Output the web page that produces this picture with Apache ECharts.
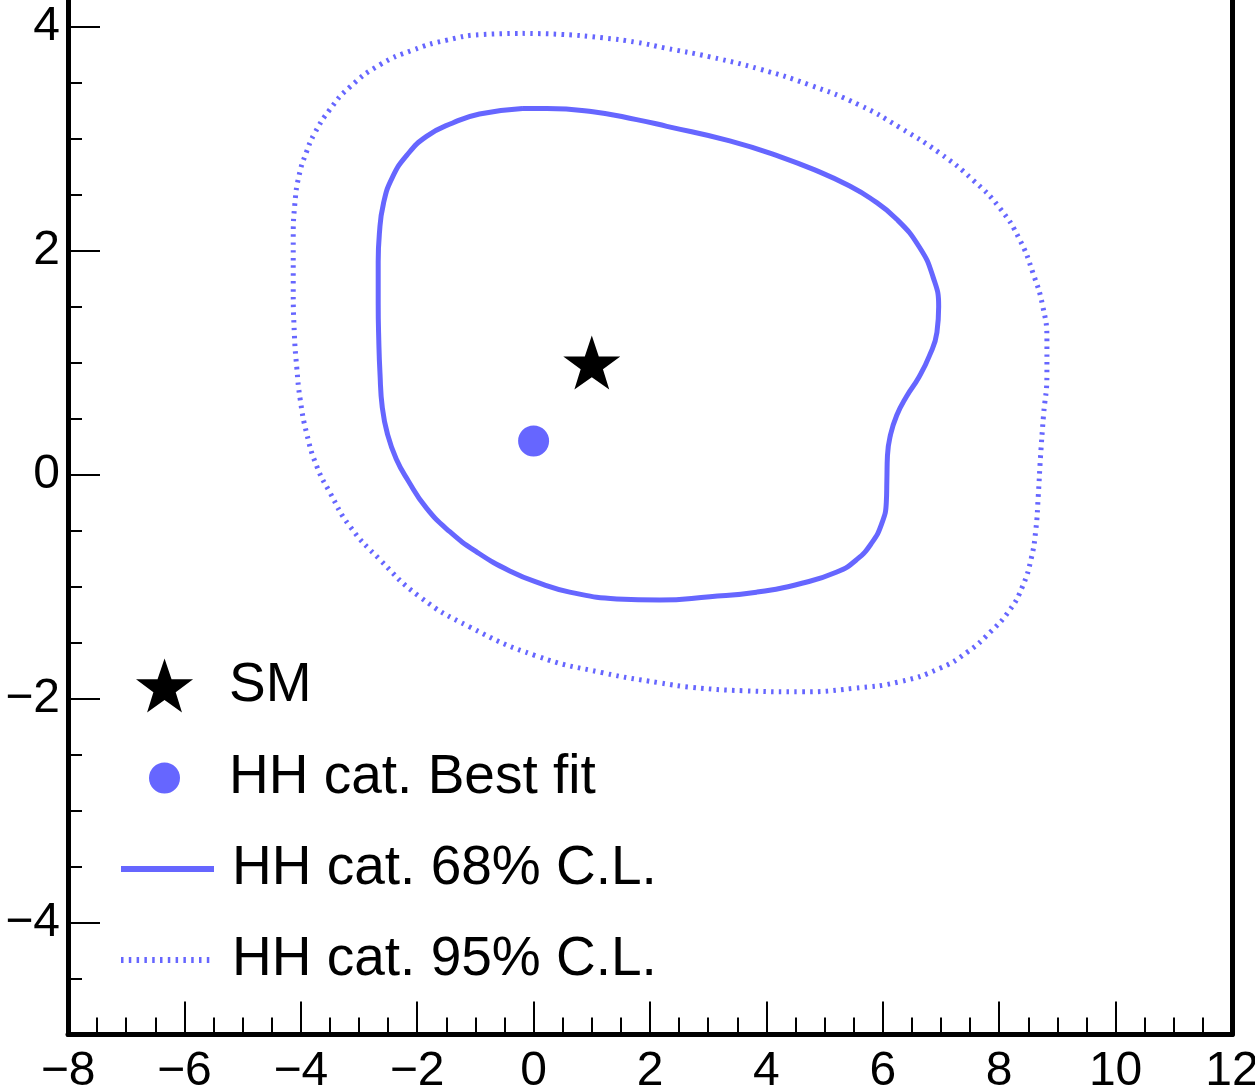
<!DOCTYPE html>
<html>
<head>
<meta charset="utf-8">
<script src="https://cdn.jsdelivr.net/npm/echarts@6/dist/echarts.min.js"></script>
<style>
html,body{margin:0;padding:0;background:#fff;}
#chart{width:1255px;height:1086px;}
</style>
</head>
<body>
<div id="chart"></div>
<script>
// ---------- data ----------
const xTickLabels = [-8, -6, -4, -2, 0, 2, 4, 6, 8, 10, 12];
const yTickLabels = [-4, -2, 0, 2, 4];
const yMinorTicks = [-4.5, -3.5, -3, -2.5, -1.5, -1, -0.5, 0.5, 1, 1.5, 2.5, 3, 3.5];

const smPoint = [[1, 1]];
const bestFit = [[0, 0.3]];

const cl68 = [
  [-0.19, 3.27], [0.23, 3.27], [1.02, 3.24], [1.77, 3.17], [2.29, 3.11], [3.37, 2.98],
  [4.23, 2.84], [4.97, 2.69], [5.38, 2.59], [5.78, 2.47], [6.24, 2.28], [6.63, 2.03],
  [6.86, 1.77], [6.96, 1.50], [6.93, 1.27], [6.80, 1.06], [6.62, 0.87], [6.41, 0.70],
  [6.24, 0.53], [6.13, 0.35], [6.08, 0.17], [6.07, -0.05], [6.06, -0.25], [5.98, -0.44],
  [5.81, -0.61], [5.55, -0.76], [5.21, -0.87], [4.61, -0.97], [3.83, -1.05], [3.03, -1.09],
  [2.17, -1.12], [1.43, -1.11], [0.62, -1.05], [0.16, -0.98], [-0.41, -0.86], [-0.98, -0.69],
  [-1.44, -0.51], [-1.84, -0.30], [-2.16, -0.05], [-2.36, 0.14], [-2.51, 0.36], [-2.60, 0.60],
  [-2.64, 0.91], [-2.66, 1.20], [-2.67, 1.53], [-2.67, 1.90], [-2.65, 2.15], [-2.58, 2.42],
  [-2.43, 2.65], [-2.18, 2.85], [-1.84, 3.02], [-1.39, 3.14], [-0.93, 3.22], [-0.19, 3.27]
];

const cl95 = [
  [-0.19, 3.94], [0.50, 3.93], [1.19, 3.90], [1.77, 3.86], [2.25, 3.81], [3.03, 3.73],
  [3.89, 3.62], [4.74, 3.48], [5.60, 3.30], [6.29, 3.10], [6.98, 2.87], [7.55, 2.63],
  [8.01, 2.38], [8.35, 2.10], [8.58, 1.80], [8.75, 1.50], [8.82, 1.20], [8.82, 0.90],
  [8.76, 0.52], [8.71, 0.16], [8.67, -0.20], [8.63, -0.49], [8.55, -0.75], [8.40, -1.00],
  [8.18, -1.21], [7.84, -1.41], [7.44, -1.59], [6.98, -1.73], [6.29, -1.85], [5.48, -1.91],
  [4.62, -1.94], [3.59, -1.93], [2.73, -1.90], [2.17, -1.86], [1.19, -1.77], [0.05, -1.62],
  [-1.10, -1.36], [-1.96, -1.09], [-2.64, -0.76], [-3.16, -0.46], [-3.50, -0.16], [-3.73, 0.08],
  [-3.90, 0.37], [-4.01, 0.67], [-4.07, 0.96], [-4.11, 1.25], [-4.13, 1.68], [-4.13, 2.10],
  [-4.10, 2.43], [-4.03, 2.67], [-3.91, 2.87], [-3.76, 3.05], [-3.50, 3.26], [-3.16, 3.46],
  [-2.64, 3.66], [-2.08, 3.79], [-1.49, 3.88], [-0.88, 3.93], [-0.19, 3.94]
];

const seriesNames = ['SM', 'HH cat. Best fit', 'HH cat. 68% C.L.', 'HH cat. 95% C.L.'];

// ---------- style ----------
const BLUE = '#6666ff';
const FONT = "'Liberation Sans', Arial, Helvetica, sans-serif";
const STAR = 'path://M50,0 L61.8,35.1 L98.1,35.1 L68.8,56.7 L79.4,91 L50,70 L20.6,91 L31.2,56.7 L1.9,35.1 L38.2,35.1 Z';
const DOT_DASH = [2.5, 5.3];
const YMIN = -5, YMAX = 4.238;

function fmt(v) {
  return v < 0 ? '\u2212' + Math.abs(v) : String(v);
}

function legendText(padTop) {
  return { fontSize: 55, color: '#000', fontFamily: FONT, lineHeight: 60, padding: [padTop, 0, 0, 13] };
}

const legendBase = {
  orient: 'horizontal',
  padding: 0,
  itemWidth: 93,
  selectedMode: false
};

const option = {
  animation: false,
  backgroundColor: '#fff',
  grid: { left: 68, right: 23, top: 0, bottom: 51.5, containLabel: false, outerBoundsMode: 'none' },
  legend: [
    Object.assign({}, legendBase, { left: 136, top: 652, itemHeight: 54, textStyle: legendText(7),
      data: [{ name: seriesNames[0], icon: STAR }] }),
    Object.assign({}, legendBase, { left: 149, top: 748, itemHeight: 31, textStyle: legendText(0),
      data: [{ name: seriesNames[1], icon: 'circle' }] }),
    Object.assign({}, legendBase, { left: 118, top: 839, itemHeight: 10, textStyle: legendText(0),
      itemStyle: { opacity: 0 },
      lineStyle: { width: 6, color: BLUE, type: 'solid' }, data: [seriesNames[2]] }),
    Object.assign({}, legendBase, { left: 118, top: 930, itemHeight: 10, textStyle: legendText(0),
      itemStyle: { opacity: 0 },
      lineStyle: { width: 6, color: BLUE, type: DOT_DASH, cap: 'butt' }, data: [seriesNames[3]] })
  ],
  xAxis: {
    type: 'value', min: -8, max: 12, interval: 2, position: 'bottom',
    axisLine: { show: true, onZero: false, lineStyle: { color: '#000', width: 5 } },
    axisTick: { show: true, inside: true, length: 33, lineStyle: { color: '#000', width: 2 } },
    minorTick: { show: true, splitNumber: 4, length: 17, lineStyle: { color: '#000', width: 2 } },
    axisLabel: { show: true, fontSize: 48, color: '#000', fontFamily: FONT, margin: 13,
      customValues: xTickLabels, formatter: fmt, hideOverlap: false },
    splitLine: { show: false }, minorSplitLine: { show: false }
  },
  yAxis: [
    {
      type: 'value', min: YMIN, max: YMAX, position: 'left',
      axisLine: { show: true, onZero: false, lineStyle: { color: '#000', width: 5 } },
      axisTick: { show: true, inside: true, length: 32, customValues: yTickLabels, lineStyle: { color: '#000', width: 2 } },
      axisLabel: { show: true, fontSize: 48, color: '#000', fontFamily: FONT, margin: 8,
        customValues: yTickLabels, formatter: fmt },
      splitLine: { show: false }
    },
    {
      type: 'value', min: YMIN, max: YMAX, position: 'left',
      axisLine: { show: false, onZero: false },
      axisTick: { show: true, inside: true, length: 14, customValues: yMinorTicks, lineStyle: { color: '#000', width: 2 } },
      axisLabel: { show: false },
      splitLine: { show: false }
    },
    {
      type: 'value', min: YMIN, max: YMAX, position: 'right',
      axisLine: { show: true, onZero: false, lineStyle: { color: '#000', width: 5 } },
      axisTick: { show: false }, axisLabel: { show: false }, splitLine: { show: false }
    }
  ],
  series: [
    {
      name: seriesNames[3], type: 'line', data: cl95, yAxisIndex: 0,
      symbol: 'none', showSymbol: false, smooth: 0.5, z: 2,
      itemStyle: { color: BLUE },
      lineStyle: { color: BLUE, width: 5, type: DOT_DASH, cap: 'butt' }
    },
    {
      name: seriesNames[2], type: 'line', data: cl68, yAxisIndex: 0,
      symbol: 'none', showSymbol: false, smooth: 0.5, z: 3,
      itemStyle: { color: BLUE },
      lineStyle: { color: BLUE, width: 5, type: 'solid' }
    },
    {
      name: seriesNames[1], type: 'scatter', data: bestFit, yAxisIndex: 0,
      symbol: 'circle', symbolSize: 31, z: 4,
      itemStyle: { color: BLUE, opacity: 1 }
    },
    {
      name: seriesNames[0], type: 'scatter', data: smPoint, yAxisIndex: 0,
      symbol: STAR, symbolSize: [57, 54], z: 5,
      itemStyle: { color: '#000', opacity: 1 }
    }
  ]
};

const chart = echarts.init(document.getElementById('chart'), null, { renderer: 'canvas' });
chart.setOption(option);
</script>
</body>
</html>
